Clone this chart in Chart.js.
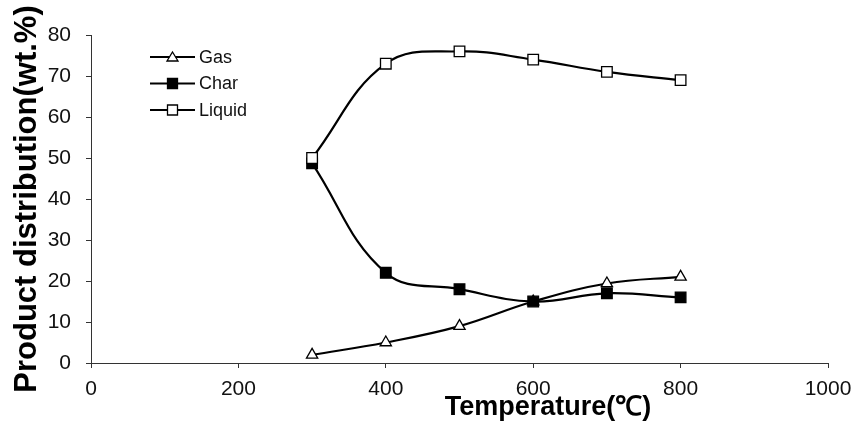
<!DOCTYPE html>
<html>
<head>
<meta charset="utf-8">
<script src="https://cdn.jsdelivr.net/npm/chart.js@4.4.0/dist/chart.umd.min.js"></script>
<style>
  html, body { margin: 0; padding: 0; background: #fff; }
  #wrap { width: 855px; height: 425px; position: relative; }
</style>
</head>
<body>
<div id="wrap"><canvas id="productChart"></canvas></div>
<script>
// values
const temperature = [300, 400, 500, 600, 700, 800];
const gas = [2, 5, 9, 15, 19.4, 21];
const charYield = [48.7, 22, 18, 15, 17, 16];
const liquid = [50, 73, 76, 74, 71, 69];
const seriesNames = ['Gas', 'Char', 'Liquid'];
const xTitle = 'Temperature(℃)';
const yTitle = 'Product distribution(wt.%)';

const toPoints = vals => vals.map((v, i) => ({ x: temperature[i], y: v }));

const baseFont = 'Arial, "Liberation Sans", sans-serif';

/**
 * Legend drawn by hand: line sample with marker in the middle
 */
const lineLegend = {
  id: 'lineLegend',
  afterDraw (chart) {
    const ctx = chart.ctx;
    const area = chart.chartArea;
    const x0 = area.left + 59;
    const x1 = x0 + 45;
    let y = area.top + 22;
    ctx.save();
    seriesNames.forEach(name => {
      const ds = chart.data.datasets.find(d => d.label === name);
      ctx.strokeStyle = '#000';
      ctx.lineWidth = 2;
      ctx.beginPath();
      ctx.moveTo(x0, y);
      ctx.lineTo(x1, y);
      ctx.stroke();
      const mx = (x0 + x1) / 2;
      ctx.lineWidth = 1.3;
      ctx.fillStyle = ds.pointBackgroundColor;
      ctx.beginPath();
      if (ds.pointStyle === 'triangle') {
        ctx.moveTo(mx, y - 5);
        ctx.lineTo(mx + 5.5, y + 4);
        ctx.lineTo(mx - 5.5, y + 4);
        ctx.closePath();
      } else {
        ctx.rect(mx - 5, y - 5, 10, 10);
      }
      ctx.fill();
      ctx.stroke();
      ctx.fillStyle = '#111';
      ctx.font = '18px ' + baseFont;
      ctx.textBaseline = 'middle';
      ctx.fillText(name, x1 + 4, y + 1);
      y += 26.5;
    });
    ctx.restore();
  }
};

/**
 * X axis title sits right of centre in the original, so it is drawn here
 */
const offsetXTitle = {
  id: 'offsetXTitle',
  afterDraw (chart) {
    const ctx = chart.ctx;
    const xs = chart.scales.x;
    ctx.save();
    ctx.font = 'bold 27px ' + baseFont;
    ctx.fillStyle = '#000';
    ctx.textAlign = 'center';
    ctx.textBaseline = 'middle';
    ctx.fillText(xTitle, xs.getPixelForValue(620), 408);
    ctx.restore();
  }
};

const common = {
  borderColor: '#000',
  borderWidth: 2.2,
  tension: 0.4,
  pointBorderColor: '#000',
  pointBorderWidth: 1.3,
  fill: false
};

const data = {
  datasets: [
    Object.assign({
      label: seriesNames[0],
      data: toPoints(gas),
      pointStyle: 'triangle',
      pointRadius: 6.5,
      pointBackgroundColor: '#fff',
      order: 2
    }, common),
    Object.assign({
      label: seriesNames[1],
      data: toPoints(charYield),
      pointStyle: 'rect',
      pointRadius: 7.5,
      pointBackgroundColor: '#000',
      order: 1
    }, common),
    Object.assign({
      label: seriesNames[2],
      data: toPoints(liquid),
      pointStyle: 'rect',
      pointRadius: 7.5,
      pointBackgroundColor: '#fff',
      order: 0
    }, common)
  ]
};

const axisGrid = {
  display: true,
  drawOnChartArea: false,
  drawTicks: true,
  tickLength: 5,
  color: '#333',
  lineWidth: 1
};

const config = {
  type: 'line',
  data: data,
  options: {
    responsive: true,
    maintainAspectRatio: false,
    animation: false,
    layout: { padding: { top: 35, right: 27, left: 0, bottom: 0 } },
    plugins: {
      legend: { display: false },
      tooltip: { enabled: false }
    },
    scales: {
      x: {
        type: 'linear',
        min: 0,
        max: 1000,
        ticks: {
          stepSize: 200,
          color: '#111',
          padding: 9,
          font: { family: baseFont, size: 21 },
          callback: v => String(v)
        },
        grid: axisGrid,
        border: { display: true, color: '#333', width: 1 },
        title: { display: false },
        afterFit (scale) {
          scale.height = 62;
          scale.paddingRight = 0;
          scale.paddingLeft = 0;
        }
      },
      y: {
        min: 0,
        max: 80,
        ticks: { stepSize: 10, color: '#111', padding: 15, font: { family: baseFont, size: 21 } },
        grid: axisGrid,
        border: { display: true, color: '#333', width: 1 },
        title: {
          display: true,
          text: yTitle,
          color: '#000',
          padding: { top: 9, bottom: 0 },
          font: { family: baseFont, size: 31, weight: 'bold' }
        },
        afterFit (scale) { scale.width = 91; }
      }
    }
  },
  plugins: [lineLegend, offsetXTitle]
};

const myChart = new Chart(document.getElementById('productChart'), config);
</script>
</body>
</html>
